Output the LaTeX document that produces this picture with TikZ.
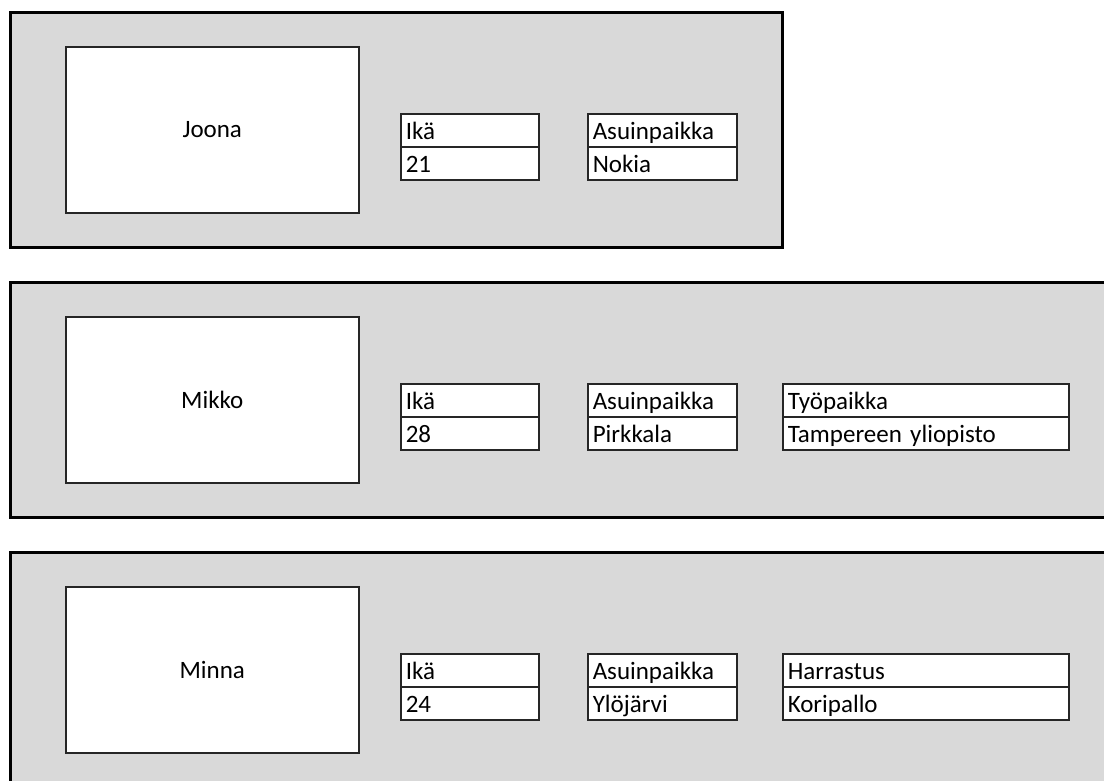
\documentclass[tikz,border=0pt]{standalone}
\usepackage{fontspec}
\setmainfont{Carlito}
\definecolor{panelgray}{HTML}{D9D9D9}
\definecolor{boxline}{HTML}{262626}
\begin{document}
\begin{tikzpicture}[x=1pt,y=-1pt,
  font=\fontsize{25}{30}\selectfont,
  panel/.style={draw=black, line width=3pt, fill=panelgray, anchor=north west,
    inner sep=0pt, outer sep=0pt, minimum height=235pt},
  namebox/.style={draw=boxline, line width=1.5pt, fill=white, anchor=north west,
    inner sep=0pt, minimum width=293pt, minimum height=166pt},
  cell/.style={draw=boxline, line width=1.5pt, fill=white, anchor=north west,
    inner xsep=5pt, inner ysep=0pt, minimum height=33pt, align=left,
    text height=20pt, text depth=2pt, text width=#1},
]
\useasboundingbox (0,0) rectangle (1104,780);
\clip (0,0) rectangle (1104,780);

% first person
\node[panel, minimum width=772pt] (p1) at (10,12) {};
\node[namebox] (n1) at (65,46) {Joona};
\node[cell=128pt] (a1h) at (400,113) {Ikä};
\node[cell=128pt] (a1v) at (400,146) {21};
\node[cell=139pt] (b1h) at (587,113) {Asuinpaikka};
\node[cell=139pt] (b1v) at (587,146) {Nokia};

% second person
\node[panel, minimum width=1110pt] (p2) at (10,282) {};
\node[namebox] (n2) at (65,316) {Mikko};
\node[cell=128pt] (a2h) at (400,383) {Ikä};
\node[cell=128pt] (a2v) at (400,416) {28};
\node[cell=139pt] (b2h) at (587,383) {Asuinpaikka};
\node[cell=139pt] (b2v) at (587,416) {Pirkkala};
\node[cell=276pt] (c2h) at (782,383) {Työpaikka};
\node[cell=276pt] (c2v) at (782,416) {Tampereen yliopisto};

% third person
\node[panel, minimum width=1110pt, minimum height=300pt] (p3) at (10,552) {};
\node[namebox] (n3) at (65,586) {Minna};
\node[cell=128pt] (a3h) at (400,653) {Ikä};
\node[cell=128pt] (a3v) at (400,686) {24};
\node[cell=139pt] (b3h) at (587,653) {Asuinpaikka};
\node[cell=139pt] (b3v) at (587,686) {Ylöjärvi};
\node[cell=276pt] (c3h) at (782,653) {Harrastus};
\node[cell=276pt] (c3v) at (782,686) {Koripallo};
\end{tikzpicture}
\end{document}
